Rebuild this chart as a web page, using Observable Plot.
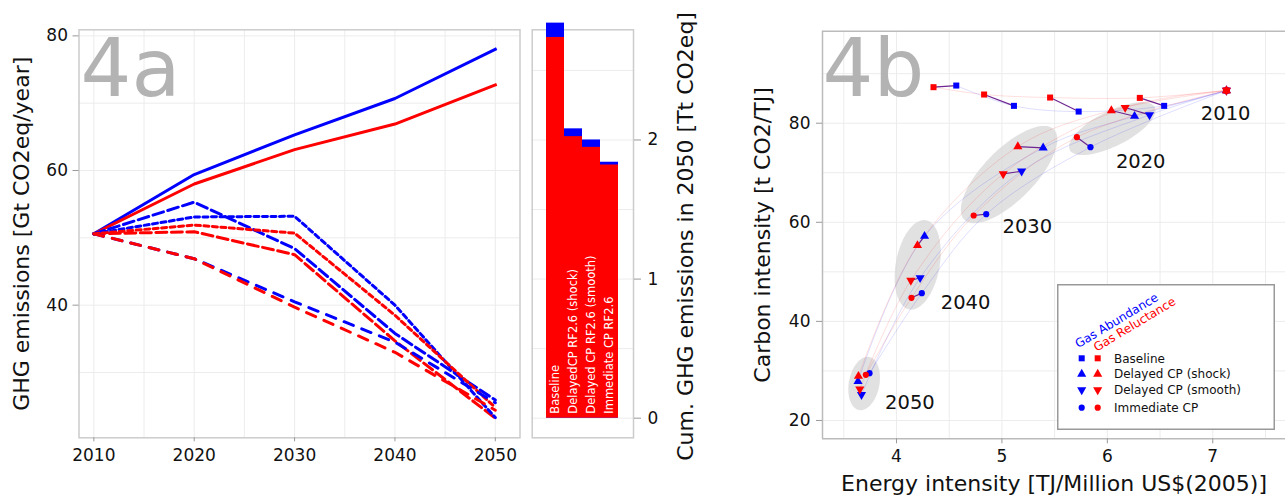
<!DOCTYPE html>
<html><head><meta charset="utf-8">
<script src="https://cdn.jsdelivr.net/npm/d3@7"></script>
<script src="https://cdn.jsdelivr.net/npm/@observablehq/plot@0.6"></script>
<style>
html,body{margin:0;padding:0;background:#fff;}
#root{position:relative;width:1285px;height:497px;overflow:hidden;font-family:"DejaVu Sans",sans-serif;}
</style></head><body><div id="root"></div>
<script>
// ---------------- DATA ----------------
const years = [2010, 2020, 2030, 2040, 2050];
const scenarios = ["Baseline", "Delayed CP (shock)", "Delayed CP (smooth)", "Immediate CP"];
const gases = ["Gas Abundance", "Gas Reluctance"];

// 4a: GHG emissions [Gt CO2eq/year]
const ghgAbBaseline  = [50.6, 59.4, 65.3, 70.7, 78.0];
const ghgReBaseline  = [50.6, 58.0, 63.1, 66.9, 72.7];
const ghgAbShock     = [50.6, 55.3, 48.4, 35.8, 25.9];
const ghgReShock     = [50.6, 50.9, 47.5, 34.7, 23.2];
const ghgAbSmooth    = [50.6, 53.1, 53.2, 40.0, 23.3];
const ghgReSmooth    = [50.6, 51.9, 50.7, 38.5, 24.8];
const ghgAbImmediate = [50.6, 46.9, 40.5, 34.5, 25.5];
const ghgReImmediate = [50.6, 46.9, 39.7, 33.0, 24.4];

// bars: cumulative GHG emissions in 2050 [Tt CO2eq]
const barLabels = ["Baseline", "DelayedCP RF2.6 (shock)", "Delayed CP RF2.6 (smooth)", "Immediate CP RF2.6"];
const cumAbundance  = [2.84, 2.08, 2.00, 1.84];
const cumReluctance = [2.737, 2.024, 1.947, 1.82];

// 4b: energy intensity [TJ/Million US$(2005)] and carbon intensity [t CO2/TJ]
const eiAbBaseline  = [7.13, 6.539, 5.728, 5.114, 4.567];
const ciAbBaseline  = [86.6, 83.5, 82.35, 83.5, 87.6];
const eiAbShock     = [7.13, 6.258, 5.391, 4.266, 3.635];
const ciAbShock     = [86.6, 81.41, 75.02, 57.2, 27.87];
const eiAbSmooth    = [7.13, 6.40, 5.187, 4.224, 3.668];
const ciAbSmooth    = [86.6, 81.68, 70.31, 48.8, 25.2];
const eiAbImmediate = [7.13, 5.84, 4.851, 4.24, 3.744];
const ciAbImmediate = [86.6, 75.16, 61.63, 45.7, 29.54];
const eiReBaseline  = [7.13, 6.308, 5.457, 4.831, 4.351];
const ciReBaseline  = [86.6, 85.11, 85.18, 85.79, 87.27];
const eiReShock     = [7.13, 6.038, 5.151, 4.199, 3.639];
const ciReShock     = [86.6, 82.56, 75.29, 55.32, 28.94];
const eiReSmooth    = [7.13, 6.169, 5.012, 4.136, 3.652];
const ciReSmooth    = [86.6, 83.16, 69.77, 48.25, 26.3];
const eiReImmediate = [7.13, 5.711, 4.732, 4.142, 3.709];
const ciReImmediate = [86.6, 77.17, 61.37, 44.76, 29.22];

// 4b annotations: year-group ellipses (centre and two semi-axis vectors, in data units)
const ellYears = [2020, 2030, 2040, 2050];
const ellCx = [6.047, 5.068, 4.201, 3.693];
const ellCy = [78.92, 69.64, 51.41, 27.46];
const ellAx = [0.402, 0.4205, 0.078, 0.0465];
const ellAy = [4.354, 9.196, 9.011, 5.367];
const ellBx = [-0.0804, -0.1808, -0.2046, -0.1429];
const ellBy = [3.089, 3.441, 0.737, 0.515];
// 4b annotations: year label anchors (data units)
const yearLabelX = [6.887, 6.081, 5.006, 4.42, 3.892];
const yearLabelY = [81.9, 72.13, 59.2, 43.67, 23.63];

// ---------------- TABLES ----------------
const ghgSeries = [
  [ghgAbBaseline, ghgReBaseline], [ghgAbShock, ghgReShock],
  [ghgAbSmooth, ghgReSmooth], [ghgAbImmediate, ghgReImmediate]];
const eiSeries = [
  [eiAbBaseline, eiReBaseline], [eiAbShock, eiReShock],
  [eiAbSmooth, eiReSmooth], [eiAbImmediate, eiReImmediate]];
const ciSeries = [
  [ciAbBaseline, ciReBaseline], [ciAbShock, ciReShock],
  [ciAbSmooth, ciReSmooth], [ciAbImmediate, ciReImmediate]];

const BLUE = "#0000ff", RED = "#ff0000";
const gasColor = [BLUE, RED];
const FONT = "DejaVu Sans";
const TICK_FS = 17;
const root = document.getElementById("root");
function place(node, left) {
  node.style.position = "absolute"; node.style.left = left + "px"; node.style.top = "0px";
  root.appendChild(node);
}
const baseStyle = {background: "transparent", overflow: "visible", fontFamily: FONT, fontSize: TICK_FS + "px", color: "#111"};

// ---------------- 4a ----------------
const dashes = [null, "11,4.5", "5,3.5", "10,9"];
const lineMarks = [];
scenarios.forEach((s, i) => {
  [0, 1].forEach(g => {
    const rows = years.map((yr, k) => ({year: yr, value: ghgSeries[i][g][k]}));
    const opt = {x: "year", y: "value", stroke: gasColor[g], strokeWidth: 3};
    if (dashes[i]) opt.strokeDasharray = dashes[i]; else opt.strokeLinecap = "square";
    lineMarks.push(Plot.line(rows, opt));
  });
});
const grid4aX = [2010, 2015, 2020, 2025, 2030, 2035, 2040, 2045, 2050];
const grid4aY = [30, 40, 50, 60, 70, 80];
const p4a = Plot.plot({
  width: 530, height: 497,
  marginLeft: 78.5, marginRight: 10.5, marginTop: 29.3, marginBottom: 59.7,
  style: baseStyle,
  x: {domain: [2008.52, 2052.46]},
  y: {domain: [20.3, 80.9]},
  marks: [
    Plot.gridX(grid4aX, {stroke: "#ececec", strokeOpacity: 1}),
    Plot.gridY(grid4aY, {stroke: "#ececec", strokeOpacity: 1}),
    Plot.text(["4a"], {frameAnchor: "top-left", textAnchor: "start", lineAnchor: "top", dx: 1.5, dy: 9.5, fontSize: 80, fill: "#b3b3b3"}),
    ...lineMarks,
    Plot.frame({stroke: "#cccccc", strokeWidth: 1.5}),
    Plot.axisX({ticks: [2010, 2020, 2030, 2040, 2050], tickFormat: d => String(d), tickSize: 4, tickPadding: 7.5, fontSize: TICK_FS, label: null, stroke: "#999"}),
    Plot.axisY({ticks: [40, 60, 80], tickFormat: d => String(d), tickSize: 6, tickPadding: 5, fontSize: TICK_FS, label: null, stroke: "#999"}),
    Plot.text(["GHG emissions [Gt CO2eq/year]"], {frameAnchor: "left", textAnchor: "middle", lineAnchor: "middle", rotate: -90, dx: -57.5, fontSize: 22, fill: "#111"})
  ]
});
place(p4a, 0);

// ---------------- bars ----------------
const barAb = barLabels.map((l, i) => ({label: l, value: cumAbundance[i]}));
const barRe = barLabels.map((l, i) => ({label: l, value: cumReluctance[i]}));
const pBar = Plot.plot({
  width: 200, height: 497,
  marginLeft: 6.7, marginRight: 92, marginTop: 29.3, marginBottom: 59.7,
  style: baseStyle,
  x: {type: "band", domain: barLabels, paddingInner: 0, paddingOuter: 0.666, axis: null},
  y: {domain: [-0.141, 2.792]},
  marks: [
    Plot.gridY([0, 0.5, 1, 1.5, 2, 2.5], {stroke: "#ececec", strokeOpacity: 1}),
    Plot.frame({stroke: "#cccccc", strokeWidth: 1.5}),
    Plot.barY(barAb, {x: "label", y: "value", fill: BLUE}),
    Plot.barY(barRe, {x: "label", y: "value", fill: RED}),
    Plot.text(barRe, {x: "label", y: () => 0, text: "label", rotate: -90, textAnchor: "start", dy: -4.5, fill: "white", fontSize: 11.5}),
    Plot.axisY({anchor: "right", ticks: [0, 1, 2], tickFormat: d => String(d), tickSize: 7, tickPadding: 7, fontSize: TICK_FS, label: null, stroke: "#999"}),
    Plot.text(["Cum. GHG emissions in 2050 [Tt CO2eq]"], {frameAnchor: "right", rotate: -90, textAnchor: "start", lineAnchor: "middle", dx: 52, dy: 227, fontSize: 22, fill: "#111"})
  ]
});
place(pBar, 525);

// ---------------- 4b ----------------
const triangleDown = {
  draw(context, size) {
    const s3 = Math.sqrt(3);
    const y = Math.sqrt(size / (s3 * 3));
    context.moveTo(0, y * 2);
    context.lineTo(-s3 * y, -y);
    context.lineTo(s3 * y, -y);
    context.closePath();
  }
};
const scenSymbol = ["square", "triangle", triangleDown, "circle"];
const scenR = [3.4, 3.4, 3.4, 3.1];

const ellPts = [];
ellYears.forEach((yr, i) => {
  for (let k = 0; k <= 72; k++) {
    const t = k / 72 * 2 * Math.PI;
    ellPts.push({year: yr,
      x: ellCx[i] + Math.cos(t) * ellAx[i] + Math.sin(t) * ellBx[i],
      y: ellCy[i] + Math.cos(t) * ellAy[i] + Math.sin(t) * ellBy[i]});
  }
});

const traj = [];
const links = [];
scenarios.forEach((s, i) => {
  [0, 1].forEach(g => {
    const rows = years.map((yr, k) => ({year: yr, x: eiSeries[i][g][k], y: ciSeries[i][g][k]}));
    traj.push(Plot.line(rows, {x: "x", y: "y", stroke: gasColor[g], strokeOpacity: 0.13, strokeWidth: 1, curve: "catmull-rom"}));
  });
  years.forEach((yr, k) => {
    if (k > 0) links.push({x1: eiSeries[i][1][k], y1: ciSeries[i][1][k], x2: eiSeries[i][0][k], y2: ciSeries[i][0][k]});
  });
});
const dotMarks = [];
[0, 1].forEach(g => {
  scenarios.forEach((s, i) => {
    const rows = years.map((yr, k) => ({x: eiSeries[i][g][k], y: ciSeries[i][g][k]}));
    dotMarks.push(Plot.dot(rows, {x: "x", y: "y", symbol: scenSymbol[i], r: scenR[i], fill: gasColor[g], stroke: "none"}));
  });
});
const yearLabels = years.map((yr, i) => ({t: String(yr), x: yearLabelX[i], y: yearLabelY[i]}));
const xDom4b = [3.298, 7.69], yDom4b = [16.3, 98.57];
const p4b = Plot.plot({
  width: 545, height: 497,
  marginLeft: 82, marginRight: 0, marginTop: 30.7, marginBottom: 58.7,
  style: baseStyle,
  x: {domain: xDom4b},
  y: {domain: yDom4b},
  marks: [
    Plot.gridX([3.5, 4, 4.5, 5, 5.5, 6, 6.5, 7, 7.5], {stroke: "#ececec", strokeOpacity: 1}),
    Plot.gridY([20, 30, 40, 50, 60, 70, 80, 90], {stroke: "#ececec", strokeOpacity: 1}),
    Plot.text(["4b"], {frameAnchor: "top-left", textAnchor: "start", lineAnchor: "top", dx: 0, dy: 7.5, fontSize: 80, fill: "#b3b3b3"}),
    Plot.line(ellPts, {x: "x", y: "y", z: "year", fill: "#d6d6d6", fillOpacity: 0.72, stroke: "none"}),
    ...traj,
    Plot.link(links, {x1: "x1", y1: "y1", x2: "x2", y2: "y2", stroke: "#6e2590", strokeWidth: 1.2}),
    ...dotMarks,
    Plot.text(yearLabels, {x: "x", y: "y", text: "t", textAnchor: "start", fontSize: 19.5, fill: "#111"}),
    Plot.ruleX([xDom4b[0]], {stroke: "#bbbbbb", strokeWidth: 1.5}),
    Plot.ruleY(yDom4b, {stroke: "#bbbbbb", strokeWidth: 1.5}),
    Plot.axisX({ticks: [4, 5, 6, 7], tickFormat: d => String(d), tickSize: 5, tickPadding: 6, fontSize: TICK_FS, label: null, stroke: "#999"}),
    Plot.axisY({ticks: [20, 40, 60, 80], tickFormat: d => String(d), tickSize: 6, tickPadding: 6, fontSize: TICK_FS, label: null, stroke: "#999"}),
    Plot.text(["Energy intensity [TJ/Million US$(2005)]"], {frameAnchor: "bottom", textAnchor: "middle", lineAnchor: "middle", dy: 45.5, fontSize: 22, fill: "#111"}),
    Plot.text(["Carbon intensity [t CO2/TJ]"], {frameAnchor: "left", textAnchor: "middle", lineAnchor: "middle", rotate: -90, dx: -60, fontSize: 22, fill: "#111"})
  ]
});
place(p4b, 740);

// ---------------- legend (4b) ----------------
const lg = d3.create("svg").attr("width", 218).attr("height", 146)
  .style("position", "absolute").style("left", "1057px").style("top", "284px")
  .style("font-family", FONT).style("overflow", "visible");
lg.append("rect").attr("x", 0.75).attr("y", 0.75).attr("width", 216.5).attr("height", 144.5)
  .attr("fill", "white").attr("stroke", "#999").attr("stroke-width", 1.5);
const headX = [21.3, 39.7], headY = [64.3, 67.7];
gases.forEach((g, j) => {
  lg.append("text").attr("transform", `translate(${headX[j]},${headY[j]}) rotate(-31)`)
    .attr("fill", gasColor[j]).attr("font-size", 12).text(g);
});
const rowY = [74.3, 90, 106, 123.7];
const symTypes = [d3.symbolSquare, d3.symbolTriangle, triangleDown, d3.symbolCircle];
scenarios.forEach((s, i) => {
  [0, 1].forEach(j => {
    lg.append("path").attr("transform", `translate(${24.7 + 16 * j},${rowY[i]})`)
      .attr("d", d3.symbol(symTypes[i], Math.PI * scenR[i] * scenR[i])()).attr("fill", gasColor[j]);
  });
  lg.append("text").attr("x", 57).attr("y", rowY[i]).attr("dy", "0.35em")
    .attr("font-size", 12).attr("fill", "#111").text(s);
});
root.appendChild(lg.node());
</script>
</body></html>
